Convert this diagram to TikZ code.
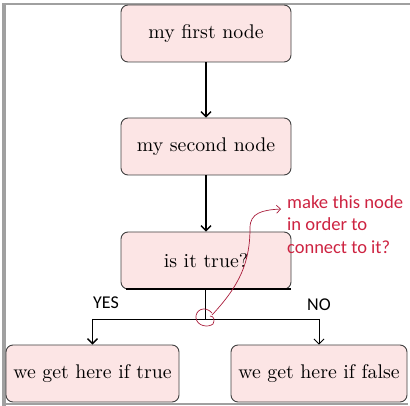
\documentclass[tikz,border=0pt]{standalone}
\usepackage{fontspec}
\usepackage{graphicx}
\newfontfamily\carl{Carlito}
\usetikzlibrary{arrows.meta}
\definecolor{pinkfill}{RGB}{252,229,229}
\definecolor{notered}{RGB}{205,35,65}
\definecolor{curvered}{RGB}{170,30,60}
\definecolor{framegray}{RGB}{160,160,160}
\newcommand{\bigtxt}[1]{\scalebox{1.98}{#1}}
\newcommand{\wline}[2]{\resizebox{#1}{\height}{#2}}
\begin{document}
\begin{tikzpicture}[x=1pt,y=-1pt,
  box/.style={draw=black!75, fill=pinkfill, rounded corners=7pt, minimum height=57pt, inner sep=0pt, line width=0.9pt},
  thickarrow/.style={line width=1.4pt, -{Straight Barb[length=5pt,width=10pt]}},
  thinarrow/.style={line width=0.9pt, -{Straight Barb[length=5pt,width=10pt]}},
  thinline/.style={line width=0.9pt},
  label/.style={font=\carl\fontsize{18}{22}\selectfont, inner sep=0pt},
  note/.style={font=\carl\fontsize{18.5}{22.7}\selectfont, text=notered, align=left, inner sep=0pt, anchor=north west},
  scribble/.style={draw=curvered, line width=0.7pt}]
\useasboundingbox (0,0) rectangle (410,406);
% frame
\fill[framegray] (2,3) rectangle (6,406);
\draw[framegray, line width=1.5pt] (2,4) -- (410,4);
\draw[framegray, line width=1.5pt] (2,404) -- (408,404);
% nodes
\node[box, minimum width=170pt] (n1) at (206,33.5) {\bigtxt{my first node}};
\node[box, minimum width=170pt] (n2) at (206,146.5) {\bigtxt{my second node}};
\node[box, minimum width=170pt] (n3) at (206,260.5) {\bigtxt{is it true?}};
\node[box, minimum width=173pt] (n4) at (92.5,373.5) {\bigtxt{we get here if true}};
\node[box, minimum width=176pt] (n5) at (319,373.5) {\bigtxt{we get here if false}};
% connectors
\draw[thickarrow] (n1) -- (n2);
\draw[thickarrow] (n2) -- (n3);
\draw[line width=2pt] ([xshift=5pt]n3.south west) -- (n3.south east);
\coordinate (split) at (205,319);
\coordinate (yesc) at (92.5,319);
\coordinate (noc) at (319,319);
\draw[thinline] (n3.south -| split) -- (split);
\draw[thinline] (yesc) -- (noc);
\draw[thickarrow] (yesc) -- (n4);
\draw[thinarrow] (noc) -- (n5);
% labels
\node[label] (yes) at (106,303) {YES};
\node[label] (no) at (319,305) {NO};
% annotation
\node[note] (q) at (287,195) {\wline{116pt}{make this node}\\\wline{80pt}{in order to}\\\wline{103pt}{connect to it?}};
\draw[scribble, -{Straight Barb[length=4pt,width=8pt]}] (212,315) .. controls (240,285) and (250,262) .. (250,228) .. controls (250,213) and (262,210) .. (281,209);
\draw[scribble] (212,313) .. controls (205,305) and (195,310) .. (196,318) .. controls (197,326) and (208,328) .. (213,324) .. controls (215,320) and (214,316) .. (210,316);
\end{tikzpicture}
\end{document}
